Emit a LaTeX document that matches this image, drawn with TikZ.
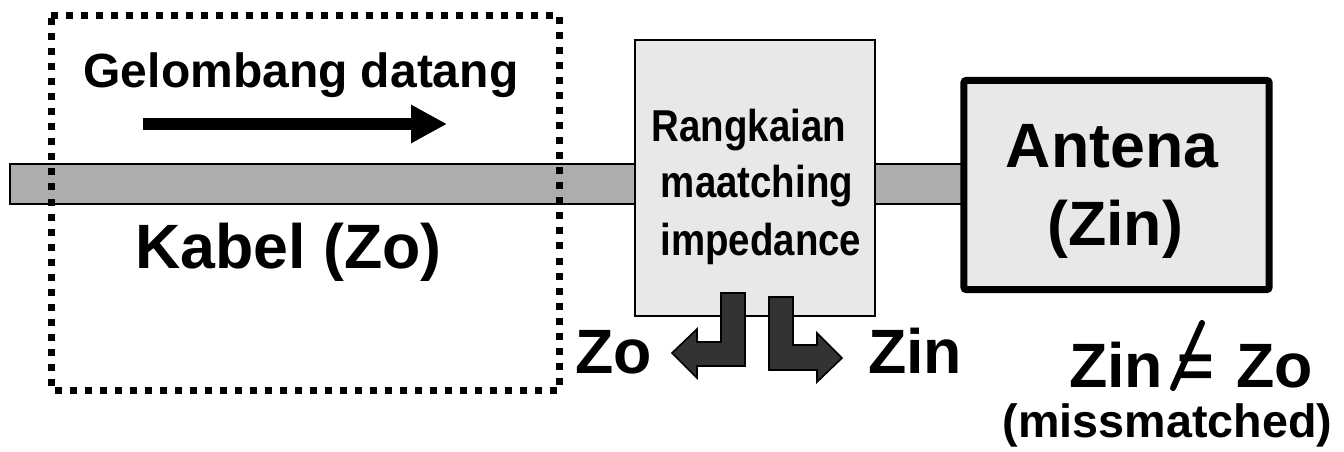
\documentclass[tikz,border=0pt]{standalone}
\usepackage{fontspec}
\setmainfont{Liberation Sans}
\usetikzlibrary{arrows.meta}
\definecolor{cablegray}{HTML}{ADADAD}
\definecolor{boxgray}{HTML}{E8E8E8}
\definecolor{darkarrow}{HTML}{333333}
\tikzset{
  bigtxt/.style={inner sep=0pt, font=\bfseries\fontsize{47}{52}\selectfont},
  midtxt/.style={inner sep=0pt, font=\bfseries\fontsize{36}{40}\selectfont},
  smalltxt/.style={inner sep=0pt, font=\bfseries\fontsize{35}{40}\selectfont},
  narrowtxt/.style={inner sep=0pt, font=\bfseries\fontsize{33.5}{42}\selectfont},
  cablepart/.style={fill=cablegray, draw=black, line width=1.5pt},
  lbend/.style={fill=darkarrow, draw=black, line width=1.2pt, line join=miter},
}
\begin{document}
\begin{tikzpicture}[x=0.75pt, y=-0.75pt]
\useasboundingbox (0,0) rectangle (1344,452);
% cable segments
\draw[cablepart] (10,164) rectangle (636,204);
\draw[cablepart] (874,164) rectangle (962,204);
% dotted region around cable
\draw[line width=5.25pt, dash pattern=on 5.25pt off 6pt] (51,15.5) -- (559,15.5) -- (559,390) -- (51,390) -- cycle;
% incoming wave
\node[midtxt, anchor=base] (gel) at (301,88) {Gelombang datang};
\coordinate (ws) at (143,124);
\coordinate (we) at (447,124);
\draw[line width=9pt, -{Triangle[length=27pt,width=27pt]}] (ws) -- (we);
\node[bigtxt, anchor=base] (kabel) at (288.5,268) {Kabel (Zo)};
% matching network
\node[draw=black, line width=1.5pt, fill=boxgray, minimum width=180pt, minimum height=207pt, inner sep=0pt] (match) at (755,178) {};
\node[narrowtxt, anchor=base] (m1) at (749,142) {\scalebox{0.86}[1]{Rangkaian}};
\node[narrowtxt, anchor=base] (m2) at (757,198) {\scalebox{0.86}[1]{maatching}};
\node[narrowtxt, anchor=base] (m3) at (761,255) {\scalebox{0.86}[1]{impedance}};
% antenna
\node[draw=black, line width=5.25pt, rounded corners=2pt, fill=boxgray, minimum width=229pt, minimum height=157pt, inner sep=0pt] (ant) at (1116.5,185) {};
\node[bigtxt, anchor=base] (ant1) at (1112,168) {Antena};
\node[bigtxt, anchor=base] (ant2) at (1115,245) {(Zin)};
% bent arrows
\draw[lbend] (721,293) -- (745,293) -- (745,366) -- (697,366) -- (697,378) -- (672,353) -- (697,329) -- (697,342) -- (721,342) -- cycle;
\draw[lbend] (769,297) -- (793,297) -- (793,345) -- (817,345) -- (817,333) -- (842,358) -- (817,382) -- (817,370) -- (769,370) -- cycle;
\node[bigtxt, anchor=base west] (zo) at (575,373) {Zo};
\node[bigtxt, anchor=base west] (zin) at (868,373) {Zin};
% inequality
\node[bigtxt, anchor=base west] (zin2) at (1069,387) {Zin};
\node[bigtxt, anchor=base] (eq) at (1196,387) {=};
\node[bigtxt, anchor=base west] (zo2) at (1236,387) {Zo};
\draw[line width=4.5pt, line cap=round] (1173,388) -- (1202,323);
\node[smalltxt, anchor=base] (mm) at (1167.5,437) {(missmatched)};
\end{tikzpicture}
\end{document}
